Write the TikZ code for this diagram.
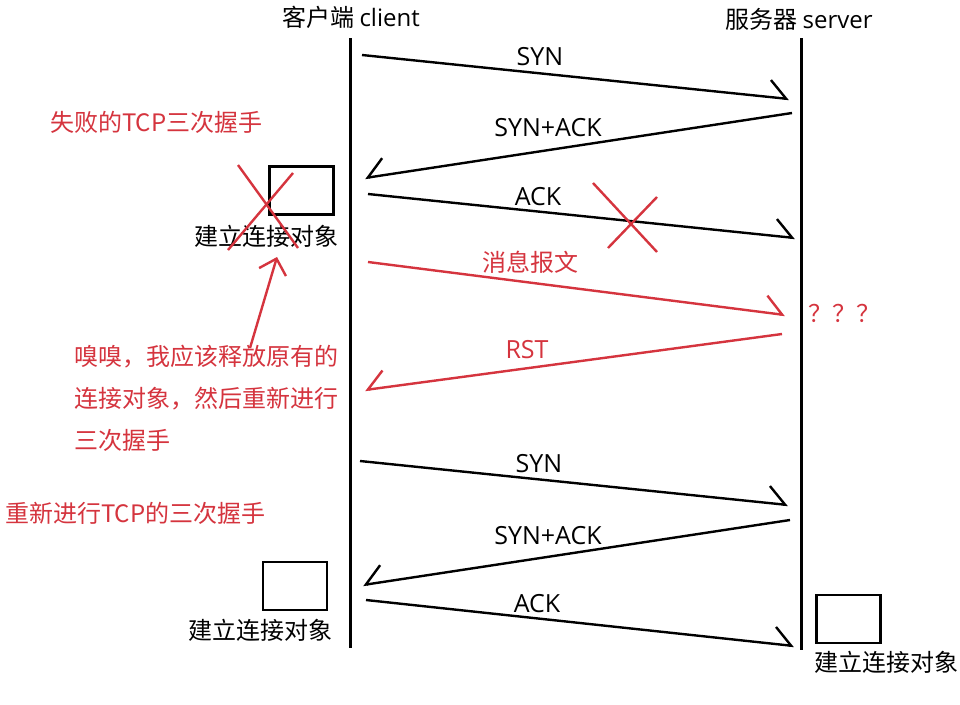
\documentclass[tikz,border=0pt]{standalone}
\usepackage{fontspec}
\setmainfont{Noto Sans CJK SC}
\newfontfamily\lat{Open Sans}
\usetikzlibrary{arrows.meta}
\definecolor{myred}{RGB}{213,52,62}
\begin{document}
\begin{tikzpicture}[x=1pt,y=-1pt,
  lifeline/.style={line width=3pt},
  msg/.style={line width=2.4pt},
  redmsg/.style={msg,draw=myred},
  rtip/.style={-{Straight Barb[left,length=17pt,width=34pt]}},
  ltip/.style={-{Straight Barb[right,length=17pt,width=34pt]}},
  lbl/.style={inner sep=0pt,font=\fontsize{24}{28}\selectfont},
  msglbl/.style={inner sep=0pt,font=\lat\fontsize{25}{28}\selectfont},
  redlbl/.style={lbl,text=myred},
  obj/.style={draw,line width=2.6pt,minimum width=64pt,minimum height=48pt,inner sep=0pt},
  cross/.style={draw=myred,line width=2.4pt}]
\useasboundingbox (0,0) rectangle (960,704);
\fill[white] (0,0) rectangle (960,704);
% headers
\node[lbl] (ch) at (351,17) {客户端 {\lat client}};
\node[lbl] (sh) at (799,19) {服务器 {\lat server}};
% lifelines
\coordinate (ct) at (350,38); \coordinate (cb) at (350,648);
\coordinate (st) at (801,38); \coordinate (sb) at (801,650);
\draw[lifeline] (ct) -- (cb);
\draw[lifeline] (st) -- (sb);
% endpoints
\coordinate (a1) at (362,55);  \coordinate (b1) at (789,99);
\coordinate (a2) at (792,113); \coordinate (b2) at (365,178);
\coordinate (a3) at (368,194); \coordinate (b3) at (795,238);
\coordinate (a4) at (368,262); \coordinate (b4) at (785,315);
\coordinate (a5) at (782,334); \coordinate (b5) at (365,390);
\coordinate (a6) at (360,461); \coordinate (b6) at (788,505);
\coordinate (a7) at (790,520); \coordinate (b7) at (363,585);
\coordinate (a8) at (366,600); \coordinate (b8) at (794,646);
\draw[msg,rtip] (a1) -- (b1);
\draw[msg,ltip] (a2) -- (b2);
\draw[msg,rtip] (a3) -- (b3);
\draw[redmsg,rtip] (a4) -- (b4);
\draw[redmsg,ltip] (a5) -- (b5);
\draw[msg,rtip] (a6) -- (b6);
\draw[msg,ltip] (a7) -- (b7);
\draw[msg,rtip] (a8) -- (b8);
% labels
\node[msglbl] (l1) at (540,57) {SYN};
\node[msglbl] (l2) at (548,128) {SYN+ACK};
\node[msglbl] (l3) at (538,197) {ACK};
\node[redlbl] (l4) at (530,262) {消息报文};
\node[msglbl,text=myred] (l5) at (527,350) {RST};
\node[msglbl] (l6) at (539,464) {SYN};
\node[msglbl] (l7) at (548,536) {SYN+ACK};
\node[msglbl] (l8) at (537,604) {ACK};
% objects
\node[obj] (o1) at (301.5,190.5) {};
\node[lbl] (t1) at (266,236) {建立连接对象};
\node[obj] (o2) at (295,586) {};
\node[lbl] (t2) at (260,630) {建立连接对象};
\node[obj] (o3) at (848.5,619) {};
\node[lbl] (t3) at (886,662) {建立连接对象};
% crosses
\draw[cross] (238,165) -- (298,248);
\draw[cross] (293,173) -- (228,250);
\draw[cross] (593,183) -- (657,252);
\draw[cross] (657,197) -- (608,248);
% red notes
\node[redlbl,anchor=west] (n1) at (50,122) {失败的TCP三次握手};
\node[redlbl,anchor=west] (n2) at (5,513) {重新进行TCP的三次握手};
\node[redlbl] (q) at (844,313) {？？？};
\node[redlbl,anchor=north west,align=left,font=\fontsize{24}{42}\selectfont] (n3) at (74,345) {嗅嗅，我应该释放原有的\\连接对象，然后重新进行\\三次握手};
\coordinate (at) at (250,348);
\coordinate (ah) at (277,257);
\draw[redmsg,-{Straight Barb[length=14pt,width=28pt]}] (at) -- (ah);
\end{tikzpicture}
\end{document}
